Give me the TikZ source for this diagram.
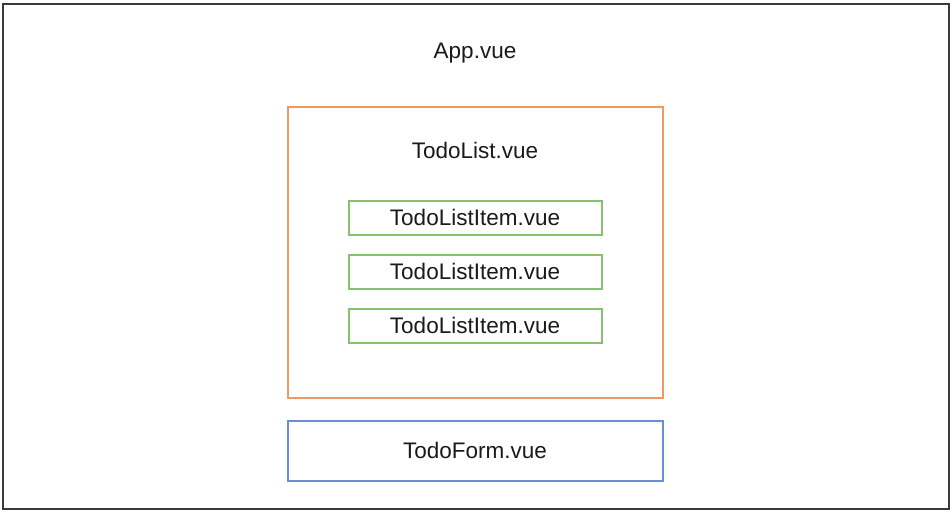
\documentclass[tikz,border=0pt]{standalone}
\usepackage{fontspec}
\setmainfont{Liberation Sans}
\usepackage{xcolor}
\usetikzlibrary{positioning}
\definecolor{ink}{HTML}{1A1A1A}
\definecolor{framegray}{HTML}{3A3A3A}
\definecolor{listorange}{HTML}{F09A62}
\definecolor{itemgreen}{HTML}{86C26E}
\definecolor{formblue}{HTML}{6A8ED6}
\tikzset{
  frame/.style={rectangle, draw=framegray, line width=2pt, minimum width=946pt, minimum height=505pt, inner sep=0pt},
  listbox/.style={rectangle, draw=listorange, line width=2pt, minimum width=375pt, minimum height=291pt, inner sep=0pt},
  itembox/.style={rectangle, draw=itemgreen, line width=2pt, minimum width=253pt, minimum height=34pt, inner sep=0pt, font=\fontsize{22.5}{27}\selectfont, text=ink},
  formbox/.style={rectangle, draw=formblue, line width=2pt, minimum width=375pt, minimum height=60pt, inner sep=0pt, font=\fontsize{22.5}{27}\selectfont, text=ink},
  caption/.style={font=\fontsize{22.5}{27}\selectfont, text=ink, inner sep=0pt}
}

\begin{document}
\begin{tikzpicture}[x=1pt, y=-1pt]
  \useasboundingbox[fill=white] (0,0) rectangle (952,512);
  \node[frame] (app) at (475.5,256) {};
  \node[caption] (applabel) at (475,53) {App.vue};

  \node[listbox] (list) at (475,252) {};
  \node[caption] (listlabel) at (475,150) {TodoList.vue};

  \node[itembox] (item1) at (475,217.5) {TodoListItem.vue};
  \node[itembox] (item2) at (475,271.5) {TodoListItem.vue};
  \node[itembox] (item3) at (475,325.5) {TodoListItem.vue};

  \node[formbox] (form) at (475,450.5) {TodoForm.vue};
\end{tikzpicture}
\end{document}
